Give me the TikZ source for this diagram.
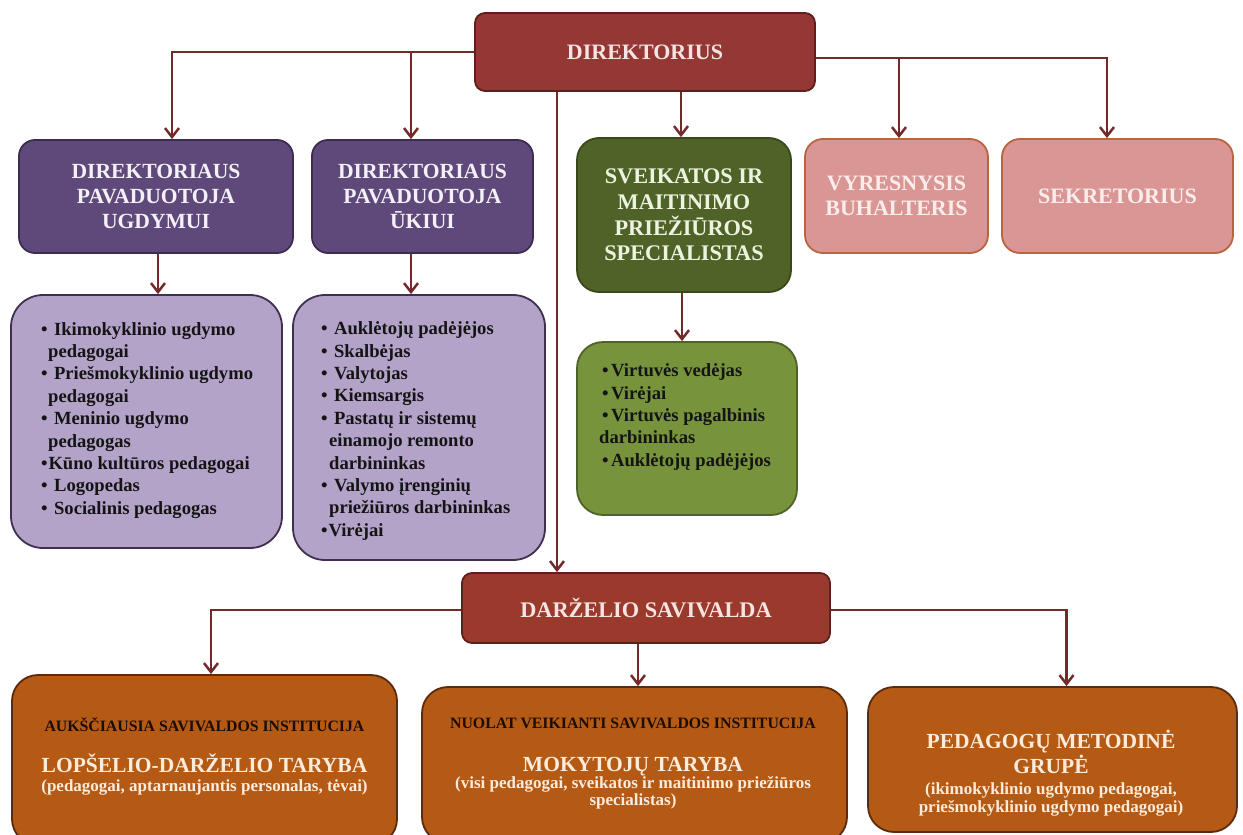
\documentclass[tikz,border=0pt]{standalone}
\usepackage{fontspec}
\setmainfont{Liberation Serif}
\usetikzlibrary{arrows.meta,calc}
\definecolor{dirred}{HTML}{953734}
\definecolor{dirredd}{HTML}{5E1F1D}
\definecolor{savred}{HTML}{9A3A2C}
\definecolor{dirtext}{HTML}{F6E4E2}
\definecolor{purp}{HTML}{5F497A}
\definecolor{purpd}{HTML}{3B2C50}
\definecolor{purptext}{HTML}{F4F0F8}
\definecolor{lav}{HTML}{B4A3C9}
\definecolor{lavd}{HTML}{40304F}
\definecolor{dgreen}{HTML}{4F6228}
\definecolor{dgreend}{HTML}{3A481C}
\definecolor{gtext}{HTML}{EEF3E0}
\definecolor{lgreen}{HTML}{77933C}
\definecolor{lgreend}{HTML}{4F6228}
\definecolor{pink}{HTML}{D99694}
\definecolor{pinkd}{HTML}{B8653F}
\definecolor{pinktext}{HTML}{FBEDEC}
\definecolor{orng}{HTML}{B45A14}
\definecolor{orngd}{HTML}{5C2A0C}
\definecolor{cream}{HTML}{FDEBDC}
\definecolor{darkink}{HTML}{1B0D05}
\definecolor{listink}{HTML}{141414}
\definecolor{connc}{HTML}{742A2A}
\newcommand\lbul{•\hspace{6.4pt}}
\newcommand\tbul{•\hspace{0.8pt}}
\newcommand\gbul{•\hspace{2.5pt}}
\begin{document}
\begin{tikzpicture}[x=1pt,y=-1pt,
  basebox/.style={rectangle, line width=1.8pt, inner sep=0pt, align=center},
  dirbox/.style={basebox, rounded corners=10pt, fill=dirred, draw=dirredd, text=dirtext, font=\fontsize{22}{26}\selectfont\bfseries},
  savbox/.style={basebox, rounded corners=10pt, fill=savred, draw=dirredd, text=dirtext, font=\fontsize{22.3}{26}\selectfont\bfseries},
  purplebox/.style={basebox, rounded corners=16pt, fill=purp, draw=purpd, text=purptext, font=\fontsize{21.6}{25.2}\selectfont\bfseries},
  greenbox/.style={basebox, rounded corners=22pt, fill=dgreen, draw=dgreend, text=gtext, font=\fontsize{22.3}{25.7}\selectfont\bfseries},
  pinkbox/.style={basebox, rounded corners=18pt, fill=pink, draw=pinkd, text=pinktext, font=\fontsize{22}{25}\selectfont\bfseries},
  listbox/.style={basebox, rounded corners=32pt, fill=lav, draw=lavd},
  glistbox/.style={basebox, rounded corners=26pt, fill=lgreen, draw=lgreend},
  botbox/.style={basebox, rounded corners=26pt, fill=orng, draw=orngd},
  listtext/.style={anchor=north west, inner sep=0pt, align=left, text=listink, font=\fontsize{18.6}{22.4}\selectfont\bfseries},
  bsmall/.style={anchor=base, inner sep=0pt, text=darkink, font=\fontsize{15.8}{18}\selectfont\bfseries},
  btitle/.style={anchor=base, inner sep=0pt, text=cream, font=\fontsize{21.5}{25}\selectfont\bfseries},
  bsub/.style={anchor=base, inner sep=0pt, text=cream, font=\fontsize{17}{18}\selectfont\bfseries},
  conn/.style={draw=connc, line width=2.5pt},
  arr/.style={conn, -{Straight Barb[length=9pt,width=14pt]}}
]
\useasboundingbox (0,0) rectangle (1243,835);
\clip (0,0) rectangle (1243,835);
\fill[white] (0,0) rectangle (1243,835);

% boxes
\node[dirbox, minimum width=340pt, minimum height=78pt] (dir) at (645,52) {DIREKTORIUS};
\node[purplebox, minimum width=274pt, minimum height=113pt] (pu1) at (156,196.5) {DIREKTORIAUS\\PAVADUOTOJA\\UGDYMUI};
\node[purplebox, minimum width=221pt, minimum height=113pt] (pu2) at (422.5,196.5) {DIREKTORIAUS\\PAVADUOTOJA\\ŪKIUI};
\node[greenbox, minimum width=214pt, minimum height=154pt] (gr) at (684,215) {SVEIKATOS IR\\MAITINIMO\\PRIEŽIŪROS\\SPECIALISTAS};
\node[pinkbox, minimum width=183pt, minimum height=114pt] (pk1) at (896.5,196) {VYRESNYSIS\\BUHALTERIS};
\node[pinkbox, minimum width=231pt, minimum height=114pt] (pk2) at (1117.5,196) {SEKRETORIUS};
\node[listbox, minimum width=271pt, minimum height=253pt] (li1) at (146.5,421.5) {};
\node[listbox, minimum width=252pt, minimum height=265pt] (li2) at (419,427.5) {};
\node[glistbox, minimum width=220pt, minimum height=173pt] (li3) at (687,428.5) {};
\node[savbox, minimum width=368pt, minimum height=70pt] (sav) at (646,608) {DARŽELIO SAVIVALDA};
\node[botbox, minimum width=385pt, minimum height=170pt] (b1) at (204.5,760) {};
\node[botbox, minimum width=425pt, minimum height=156pt] (b2) at (634.5,765) {};
\node[botbox, minimum width=369pt, minimum height=145pt] (b3) at (1052.5,759.5) {};

% list texts
\node[listtext] (t1) at (41,319.3) {\strut\lbul Ikimokyklinio ugdymo\\\hspace*{7pt}pedagogai\\\lbul Priešmokyklinio ugdymo\\\hspace*{7pt}pedagogai\\\lbul Meninio ugdymo\\\hspace*{7pt}pedagogas\\\tbul Kūno kultūros pedagogai\\\lbul Logopedas\\\lbul Socialinis pedagogas};
\node[listtext] (t2) at (321,318.8) {\strut\lbul Auklėtojų padėjėjos\\\lbul Skalbėjas\\\lbul Valytojas\\\lbul Kiemsargis\\\lbul Pastatų ir sistemų\\\hspace*{8pt}einamojo remonto\\\hspace*{8pt}darbininkas\\\lbul Valymo įrenginių\\\hspace*{8pt}priežiūros darbininkas\\\tbul Virėjai};
\node[listtext] (t3) at (602,360.8) {\strut\gbul Virtuvės vedėjas\\\gbul Virėjai\\\gbul Virtuvės pagalbinis\\\hspace*{-3pt}darbininkas\\\gbul Auklėtojų padėjėjos};

% bottom texts
\node[bsmall] (b1h) at (204.5,731) {AUKŠČIAUSIA SAVIVALDOS INSTITUCIJA};
\node[btitle] (b1t) at (204.5,772) {LOPŠELIO-DARŽELIO TARYBA};
\node[bsub] (b1s) at (204.5,791) {(pedagogai, aptarnaujantis personalas, tėvai)};
\node[bsmall] (b2h) at (633,728) {NUOLAT VEIKIANTI SAVIVALDOS INSTITUCIJA};
\node[btitle] (b2t) at (633,771) {MOKYTOJŲ TARYBA};
\node[bsub] (b2s) at (633,788.5) {(visi pedagogai, sveikatos ir maitinimo priežiūros};
\node[bsub] (b2s2) at (633,805) {specialistas)};
\node[btitle] (b3t) at (1051,748) {PEDAGOGŲ METODINĖ};
\node[btitle] (b3t2) at (1051,773) {GRUPĖ};
\node[bsub] (b3s) at (1051,794) {(ikimokyklinio ugdymo pedagogai,};
\node[bsub] (b3s2) at (1051,812) {priešmokyklinio ugdymo pedagogai)};

% connectors
\coordinate (j2) at ($(pu2.north)+(-11.5,0)$);
\coordinate (de) at ($(dir.east)+(0,6)$);
\coordinate (j4) at ($(pk1.north)+(2.5,0)$);
\coordinate (dg) at ($(dir.south)+(36,0)$);
\coordinate (dsv) at ($(dir.south)+(-88,0)$);
\coordinate (p1s) at ($(pu1.south)+(2,0)$);
\coordinate (p2s) at (pu2.south -| j2);
\coordinate (gs) at ($(gr.south)+(-2,0)$);
\coordinate (sw) at ($(sav.west)+(0,2)$);
\coordinate (ss) at ($(sav.south)+(-8,0)$);
\coordinate (se) at ($(sav.east)+(0,2)$);

\draw[arr] (dir.west) -| ($(pu1.north)+(16,0)$);
\draw[arr] (dir.west -| j2) -- (j2);
\draw[arr] (de) -| ($(pk2.north)+(-10.5,0)$);
\draw[arr] (de -| j4) -- (j4);
\draw[arr] (dg) -- (dg |- gr.north);
\draw[arr] (dsv) -- (dsv |- sav.north);
\draw[arr] (p1s) -- (p1s |- li1.north);
\draw[arr] (p2s) -- (p2s |- li2.north);
\draw[arr] (gs) -- (gs |- li3.north);
\draw[arr] (sw) -| ($(b1.north)+(6.5,0)$);
\draw[arr] (ss) -- (ss |- b2.north);
\draw[arr] (se) -| ($(b3.north)+(14,0)$);
\end{tikzpicture}
\end{document}
